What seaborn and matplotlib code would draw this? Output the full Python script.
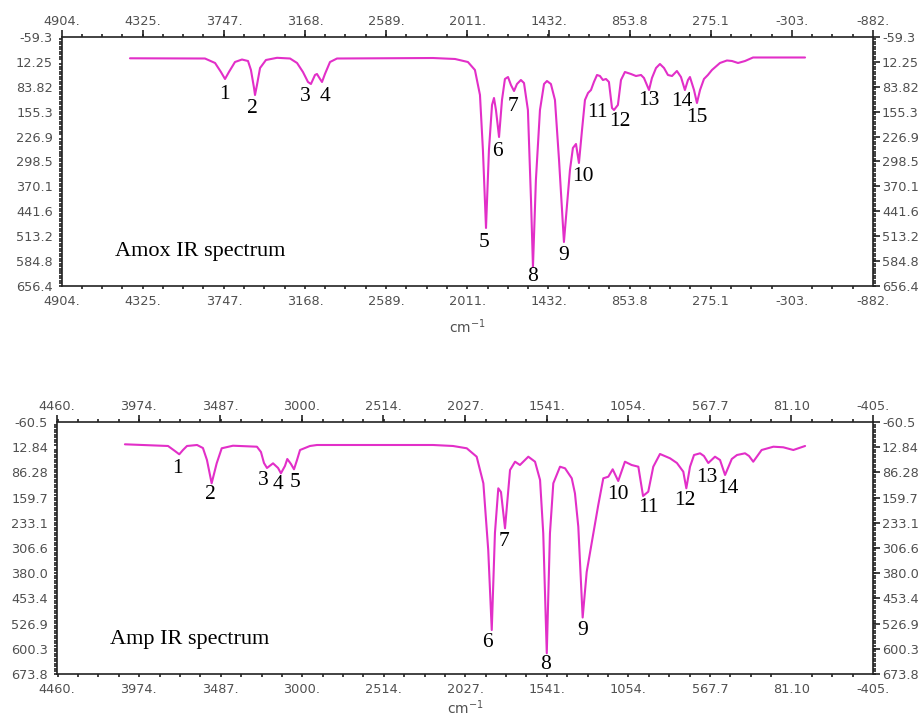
import numpy as np
import pandas as pd
import matplotlib
matplotlib.use("Agg")
import matplotlib.pyplot as plt
import seaborn as sns
from matplotlib.ticker import FixedLocator, FixedFormatter, AutoMinorLocator

# ---------------- data: Amox ----------------
amox_wn = [4419, 3884, 3812, 3770, 3741, 3713, 3670, 3620, 3577, 3556, 3534, 3527, 3513, 3491,
           3449, 3370, 3277, 3227, 3185, 3149, 3128, 3099, 3085, 3063, 3049, 3028, 2992, 2942,
           2257, 2100, 2008, 1958, 1922, 1901, 1879, 1858, 1836, 1822, 1808, 1786, 1765, 1744,
           1722, 1701, 1679, 1658, 1630, 1608, 1580, 1558, 1544, 1523, 1494, 1465, 1444, 1416,
           1387, 1358, 1323, 1301, 1280, 1259, 1237, 1216, 1194, 1173, 1151, 1130, 1109, 1087,
           1066, 1045, 1023, 1002, 980, 966, 938, 916, 888, 845, 809, 773, 752, 716, 695, 666,
           638, 609, 581, 552, 517, 488, 460, 438, 424, 395, 374, 352, 324, 296, 267, 210, 160,
           124, 81, 31, -26, -397]
amox_val = [1.9, 2.5, 15.4, 41.3, 61.4, 41.3, 12.6, 5.4, 9.7, 35.5, 87.3, 107.4, 78.7, 29.8,
            6.8, 0.5, 2.5, 15.4, 41.3, 70.0, 75.8, 49.9, 47.0, 61.4, 70.0, 47.0, 12.6, 2.5,
            1.1, 3.9, 12.6, 35.5, 107.4, 265.5, 489.6, 265.5, 136.1, 116.0, 150.5, 228.1, 121.8,
            61.4, 55.7, 78.7, 95.9, 75.8, 64.3, 72.9, 150.5, 409.2, 601.7, 351.7, 150.5, 75.8,
            67.2, 75.8, 121.8, 294.2, 529.9, 423.5, 322.9, 259.7, 248.2, 302.8, 208.0, 121.8,
            101.6, 93.0, 70.0, 49.9, 52.8, 64.3, 61.4, 70.0, 144.8, 150.5, 136.1, 64.3, 41.3,
            47.0, 52.8, 49.9, 58.5, 93.0, 58.5, 29.8, 18.3, 29.8, 49.9, 52.8, 38.4, 55.7, 93.0,
            64.3, 55.7, 93.0, 130.4, 93.0, 61.4, 49.9, 35.5, 15.4, 8.2, 9.7, 15.4, 9.7, -0.4, -0.4]

amox_lab = [str(i) for i in range(1, 16)]
amox_lab_x = [3748, 3549, 3170, 3028, 1893, 1794, 1687, 1544, 1323, 1187, 1087, 923, 716, 481, 374]
amox_lab_y = [107.4, 144.8, 113.1, 113.1, 532.7, 271.2, 141.9, 630.5, 570.1, 343.1, 159.1, 185.0,
              121.8, 127.5, 173.5]

amox_xticks = [4904, 4325, 3747, 3168, 2589, 2011, 1432, 853.8, 275.1, -303, -882]
amox_xticklabels = ["4904.", "4325.", "3747.", "3168.", "2589.", "2011.", "1432.", "853.8",
                    "275.1", "-303.", "-882."]
amox_yticks = [-59.3, 12.25, 83.82, 155.3, 226.9, 298.5, 370.1, 441.6, 513.2, 584.8, 656.4]
amox_yticklabels = ["-59.3", "12.25", "83.82", "155.3", "226.9", "298.5", "370.1", "441.6",
                    "513.2", "584.8", "656.4"]

# ---------------- data: Amp ----------------
amp_wn = [4055, 3798, 3757, 3731, 3709, 3685, 3625, 3590, 3566, 3538, 3508, 3478, 3411, 3268,
          3244, 3226, 3208, 3172, 3142, 3125, 3101, 3087, 3065, 3047, 3029, 3011, 2952, 2910,
          2218, 2099, 2017, 1958, 1918, 1889, 1868, 1849, 1829, 1813, 1789, 1759, 1729, 1700,
          1650, 1610, 1580, 1561, 1540, 1521, 1501, 1461, 1431, 1391, 1372, 1352, 1326, 1302,
          1264, 1233, 1203, 1173, 1147, 1114, 1074, 1034, 994, 966, 935, 905, 865, 805, 764,
          726, 708, 686, 662, 626, 603, 577, 537, 507, 477, 437, 406, 358, 334, 309, 259, 189,
          130, 70, 0]
amp_val = [4.5, 9.4, 24.0, 33.6, 21.1, 9.4, 6.5, 15.3, 50.2, 118.1, 59.9, 16.1, 8.6, 11.5,
           26.9, 59.0, 73.5, 59.9, 73.5, 89.0, 67.7, 47.3, 61.9, 77.3, 50.2, 21.1, 9.4, 6.5,
           6.5, 9.4, 16.1, 40.6, 118.1, 312.5, 545.6, 263.0, 132.7, 143.5, 249.3, 79.4, 55.2,
           64.8, 40.6, 55.2, 108.5, 263.8, 613.5, 263.8, 118.1, 69.8, 74.4, 103.6, 147.3, 244.6,
           509.2, 376.6, 268.8, 181.4, 103.6, 98.9, 77.3, 111.4, 55.2, 64.8, 69.8, 155.1, 142.6,
           69.8, 32.7, 45.3, 59.0, 84.3, 132.7, 69.8, 35.7, 30.7, 38.6, 59.0, 40.6, 50.2, 93.9,
           47.3, 35.7, 30.7, 38.6, 55.2, 21.1, 11.5, 13.2, 21.1, 9.4]

amp_lab = [str(i) for i in range(1, 15)]
amp_lab_x = [3740, 3548, 3230, 3144, 3041, 1895, 1795, 1545, 1326, 1117, 931, 716, 587, 458]
amp_lab_y = [74.4, 152.2, 110.6, 120.2, 115.2, 582.6, 288.3, 645.6, 547.7, 152.2, 188.1, 166.8,
             100.6, 132.7]

amp_xticks = [4460, 3974, 3487, 3000, 2514, 2027, 1541, 1054, 567.7, 81.10, -405]
amp_xticklabels = ["4460.", "3974.", "3487.", "3000.", "2514.", "2027.", "1541.", "1054.",
                   "567.7", "81.10", "-405."]
amp_yticks = [-60.5, 12.84, 86.28, 159.7, 233.1, 306.6, 380.0, 453.4, 526.9, 600.3, 673.8]
amp_yticklabels = ["-60.5", "12.84", "86.28", "159.7", "233.1", "306.6", "380.0", "453.4",
                   "526.9", "600.3", "673.8"]

# ---------------- drawing ----------------
sns.set_theme(style="white")
plt.rcParams['font.family'] = ['DejaVu Sans']

LINE = '#e22fc8'
TICKC = '#505050'

fig = plt.figure(figsize=(9.2, 7.22), dpi=100)
ax1 = fig.add_axes([62/920, 1 - 286/722, 811/920, 249/722])
ax2 = fig.add_axes([57/920, 1 - 674/722, 816/920, 252/722])


def style_axis(ax, xt, xtl, yt, ytl, lpad):
    ax.set_xlim(xt[0], xt[-1])
    ax.set_ylim(yt[-1], yt[0])
    ax.xaxis.set_major_locator(FixedLocator(xt))
    ax.xaxis.set_major_formatter(FixedFormatter(xtl))
    ax.yaxis.set_major_locator(FixedLocator(yt))
    ax.yaxis.set_major_formatter(FixedFormatter(ytl))
    ax.xaxis.set_minor_locator(AutoMinorLocator(4))
    ax.yaxis.set_minor_locator(AutoMinorLocator(10))
    ax.tick_params(which='major', direction='out', length=5, width=1.2, color='#222222',
                   labelsize=9.3, labelcolor=TICKC, pad=1.5,
                   top=True, right=True, labeltop=True, labelright=True)
    ax.tick_params(which='minor', direction='out', length=2, width=1.2, color='#222222',
                   top=True, right=True, bottom=True, left=True)
    for s in ax.spines.values():
        s.set_color('#222222')
        s.set_linewidth(1.2)
    ax.set_xlabel('cm$^{-1}$', fontsize=10, color=TICKC, labelpad=lpad)
    ax.set_ylabel('')
    ax.grid(False)


for ax, wn, val, lab, lx, ly, xt, xtl, yt, ytl, title, lpad in [
    (ax1, amox_wn, amox_val, amox_lab, amox_lab_x, amox_lab_y,
     amox_xticks, amox_xticklabels, amox_yticks, amox_yticklabels, "Amox IR spectrum", 7),
    (ax2, amp_wn, amp_val, amp_lab, amp_lab_x, amp_lab_y,
     amp_xticks, amp_xticklabels, amp_yticks, amp_yticklabels, "Amp IR spectrum", 2),
]:
    df = pd.DataFrame({'wn': wn, 'val': val})
    sns.lineplot(data=df, x='wn', y='val', ax=ax, color=LINE, linewidth=1.5,
                 sort=False, estimator=None)
    for t, x, y in zip(lab, lx, ly):
        ax.text(x, y, t, ha='center', va='center', fontsize=15.5,
                family='Liberation Serif', color='black')
    style_axis(ax, xt, xtl, yt, ytl, lpad)
    ax.text(0.065, 0.12, title, transform=ax.transAxes, ha='left', va='baseline',
            fontsize=16, family='Liberation Serif', color='black')

fig.savefig('out.png', dpi=100)
